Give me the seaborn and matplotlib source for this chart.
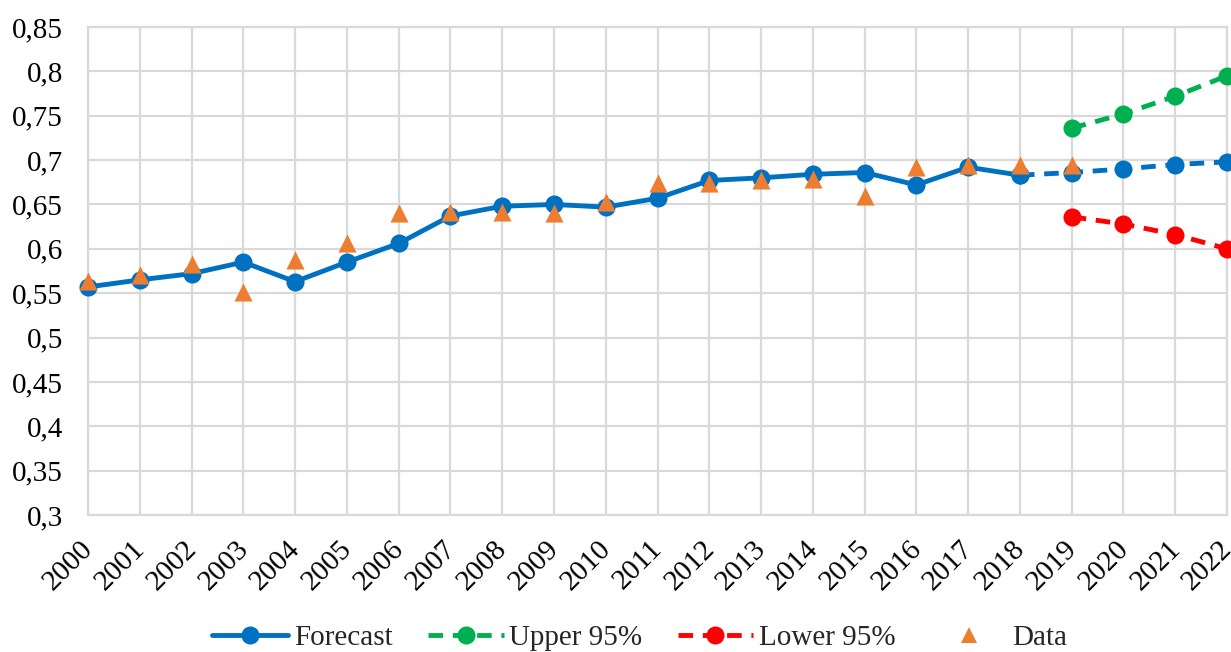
import matplotlib
matplotlib.use("Agg")
import matplotlib.pyplot as plt
import seaborn as sns
import pandas as pd
import numpy as np
from matplotlib.lines import Line2D
from matplotlib.ticker import FuncFormatter, MultipleLocator
from matplotlib.transforms import ScaledTranslation

years = [str(y) for y in range(2000, 2023)]
forecast = [0.557, 0.565, 0.572, 0.585, 0.563, 0.585, 0.606, 0.637, 0.648, 0.650,
            0.647, 0.657, 0.677, 0.680, 0.684, 0.686, 0.672, 0.692, 0.683,
            0.686, 0.690, 0.695, 0.698]
upper = [0.736, 0.752, 0.772, 0.795]          # 2019-2022
lower = [0.636, 0.628, 0.616, 0.600]          # 2019-2022
data = [0.564, 0.570, 0.583, 0.551, 0.587, 0.606, 0.640, 0.642, 0.642, 0.640,
        0.653, 0.674, 0.674, 0.677, 0.679, 0.659, 0.692, 0.694, 0.695, 0.695]  # 2000-2019

sns.set_style("white")
plt.rcParams['font.family'] = ['Liberation Serif', 'DejaVu Serif']

BLUE = "#0070C0"
GREEN = "#00B050"
RED = "#FF0000"
ORANGE = "#ED7D31"

x_all = np.arange(len(years))
df_fc = pd.DataFrame({"x": x_all, "y": forecast})
df_solid = df_fc.iloc[:19]
df_dash = df_fc.iloc[18:]
df_up = pd.DataFrame({"x": x_all[19:], "y": upper})
df_lo = pd.DataFrame({"x": x_all[19:], "y": lower})
df_data = pd.DataFrame({"x": x_all[:len(data)], "y": data})

fig = plt.figure(figsize=(12.31, 6.52), dpi=100)
ax = fig.add_axes([88/1231, 1-515/652, (1227-88)/1231, (515-27)/652])

lw = 3.5
ms = 13
dash = (3, 2)
FS = 21

sns.lineplot(data=df_solid, x="x", y="y", ax=ax, color=BLUE, linewidth=lw,
             marker="o", markersize=ms, markeredgewidth=0, clip_on=False, zorder=3)
sns.lineplot(data=df_dash, x="x", y="y", ax=ax, color=BLUE, linewidth=lw,
             dashes=dash, marker="o", markersize=ms, markeredgewidth=0,
             clip_on=False, zorder=3)
sns.lineplot(data=df_up, x="x", y="y", ax=ax, color=GREEN, linewidth=lw,
             dashes=dash, marker="o", markersize=ms, markeredgewidth=0,
             clip_on=False, zorder=3)
sns.lineplot(data=df_lo, x="x", y="y", ax=ax, color=RED, linewidth=lw,
             dashes=dash, marker="o", markersize=ms, markeredgewidth=0,
             clip_on=False, zorder=3)
sns.scatterplot(data=df_data, x="x", y="y", ax=ax, color=ORANGE, marker="^",
                s=170, linewidth=0, clip_on=False, zorder=4)

ax.set_xlim(0, len(years) - 1)
ax.set_ylim(0.3, 0.85)
ax.yaxis.set_major_locator(MultipleLocator(0.05))
ax.yaxis.set_major_formatter(FuncFormatter(lambda v, p: ("%g" % round(v, 2)).replace(".", ",")))
ax.set_xticks(x_all)
ax.set_xticklabels(years, rotation=45, ha="right", rotation_mode="anchor")
ax.tick_params(axis="both", length=0, labelsize=FS, colors="black")
ax.tick_params(axis="y", pad=18)
ax.tick_params(axis="x", pad=15)
shift = ScaledTranslation(-8/100, 0, fig.dpi_scale_trans)
for lbl in ax.get_xticklabels():
    lbl.set_transform(lbl.get_transform() + shift)
ax.set_xlabel("")
ax.set_ylabel("")

ax.grid(True, color="#D9D9D9", linewidth=1.6)
ax.set_axisbelow(True)
for s in ax.spines.values():
    s.set_color("#D9D9D9")
    s.set_linewidth(1.6)

handles = [
    Line2D([0], [0], color=BLUE, lw=lw, marker="o", markersize=ms, markeredgewidth=0),
    Line2D([0], [0], color=GREEN, lw=lw, dashes=dash, marker="o", markersize=ms, markeredgewidth=0),
    Line2D([0], [0], color=RED, lw=lw, dashes=dash, marker="o", markersize=ms, markeredgewidth=0),
    Line2D([0], [0], color=ORANGE, lw=0, marker="^", markersize=11, markeredgewidth=0),
]
labels = ["Forecast", "Upper 95%", "Lower 95%", "Data"]
fig.legend(handles, labels, loc="center", bbox_to_anchor=(640/1231, 1-638/652),
           ncol=4, frameon=False, fontsize=FS, handlelength=2.6, handletextpad=0.2,
           columnspacing=1.2)

fig.savefig("out.png", dpi=100)
